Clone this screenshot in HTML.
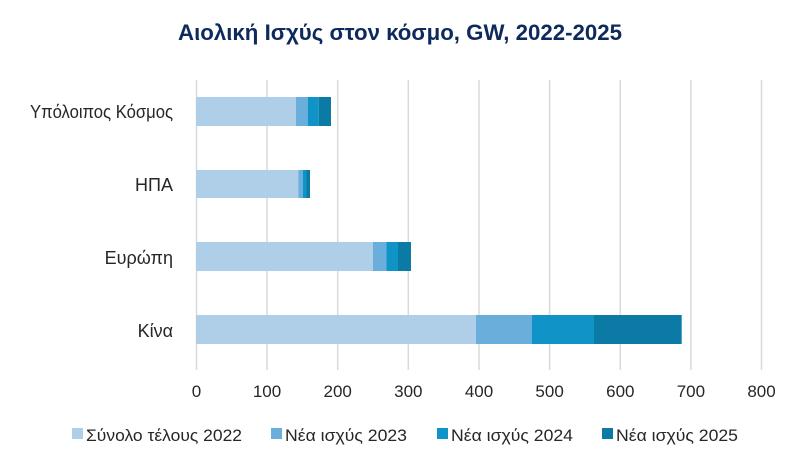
<!DOCTYPE html>
<html><head><meta charset="utf-8"><style>
body{margin:0;background:#fff;}
svg text{font-family:"Liberation Sans",sans-serif;}
</style></head><body>
<svg width="800" height="466" xmlns="http://www.w3.org/2000/svg">
<rect width="800" height="466" fill="#fff"/>
<text x="400" y="40" text-anchor="middle" font-size="22" font-weight="bold" fill="#0e2a5c" textLength="444" lengthAdjust="spacingAndGlyphs">Αιολική Ισχύς στον κόσμο, GW, 2022-2025</text>
<g stroke="#d9d9d9" stroke-width="1.5">
<line x1="196.5" y1="80" x2="196.5" y2="370"/>
<line x1="267" y1="80" x2="267" y2="370"/>
<line x1="337.7" y1="80" x2="337.7" y2="370"/>
<line x1="408.3" y1="80" x2="408.3" y2="370"/>
<line x1="479" y1="80" x2="479" y2="370"/>
<line x1="549.6" y1="80" x2="549.6" y2="370"/>
<line x1="620.3" y1="80" x2="620.3" y2="370"/>
<line x1="690.9" y1="80" x2="690.9" y2="370"/>
<line x1="761.5" y1="80" x2="761.5" y2="370"/>
</g>
<g>
<rect x="196" y="97" width="100" height="29" fill="#afcfe8"/>
<rect x="296" y="97" width="11.7" height="29" fill="#6aafdc"/>
<rect x="307.7" y="97" width="11" height="29" fill="#1094c8"/>
<rect x="318.7" y="97" width="12.3" height="29" fill="#0b7ba6"/>

<rect x="196" y="170" width="102.3" height="28" fill="#afcfe8"/>
<rect x="298.3" y="170" width="4.7" height="28" fill="#6aafdc"/>
<rect x="303" y="170" width="3.5" height="28" fill="#1094c8"/>
<rect x="306.5" y="170" width="3.5" height="28" fill="#0b7ba6"/>

<rect x="196" y="242" width="177" height="29" fill="#afcfe8"/>
<rect x="373" y="242" width="13.3" height="29" fill="#6aafdc"/>
<rect x="386.3" y="242" width="11.7" height="29" fill="#1094c8"/>
<rect x="398" y="242" width="13" height="29" fill="#0b7ba6"/>

<rect x="196" y="315" width="280" height="29" fill="#afcfe8"/>
<rect x="476" y="315" width="55.7" height="29" fill="#6aafdc"/>
<rect x="531.7" y="315" width="62.3" height="29" fill="#1094c8"/>
<rect x="594" y="315" width="87.7" height="29" fill="#0b7ba6"/>
</g>
<g font-size="18" fill="#262626" text-anchor="end">
<text x="173" y="118" textLength="143" lengthAdjust="spacingAndGlyphs">Υπόλοιπος Κόσμος</text>
<text x="173" y="191">ΗΠΑ</text>
<text x="173" y="264">Ευρώπη</text>
<text x="173" y="337">Κίνα</text>
</g>
<g font-size="17" fill="#262626" text-anchor="middle">
<text x="196.5" y="397">0</text>
<text x="267" y="397">100</text>
<text x="337.7" y="397">200</text>
<text x="408.3" y="397">300</text>
<text x="479" y="397">400</text>
<text x="549.6" y="397">500</text>
<text x="620.3" y="397">600</text>
<text x="690.9" y="397">700</text>
<text x="761.5" y="397">800</text>
</g>
<g font-size="17" fill="#262626">
<rect x="72" y="428" width="11" height="11" fill="#afcfe8"/><text x="86" y="441" textLength="156" lengthAdjust="spacingAndGlyphs">Σύνολο τέλους 2022</text>
<rect x="271" y="428" width="11" height="11" fill="#6aafdc"/><text x="285" y="441" textLength="122" lengthAdjust="spacingAndGlyphs">Νέα ισχύς 2023</text>
<rect x="437" y="428" width="11" height="11" fill="#1094c8"/><text x="451" y="441" textLength="122" lengthAdjust="spacingAndGlyphs">Νέα ισχύς 2024</text>
<rect x="602" y="428" width="11" height="11" fill="#0b7ba6"/><text x="616" y="441" textLength="122" lengthAdjust="spacingAndGlyphs">Νέα ισχύς 2025</text>
</g>
</svg>
</body></html>
